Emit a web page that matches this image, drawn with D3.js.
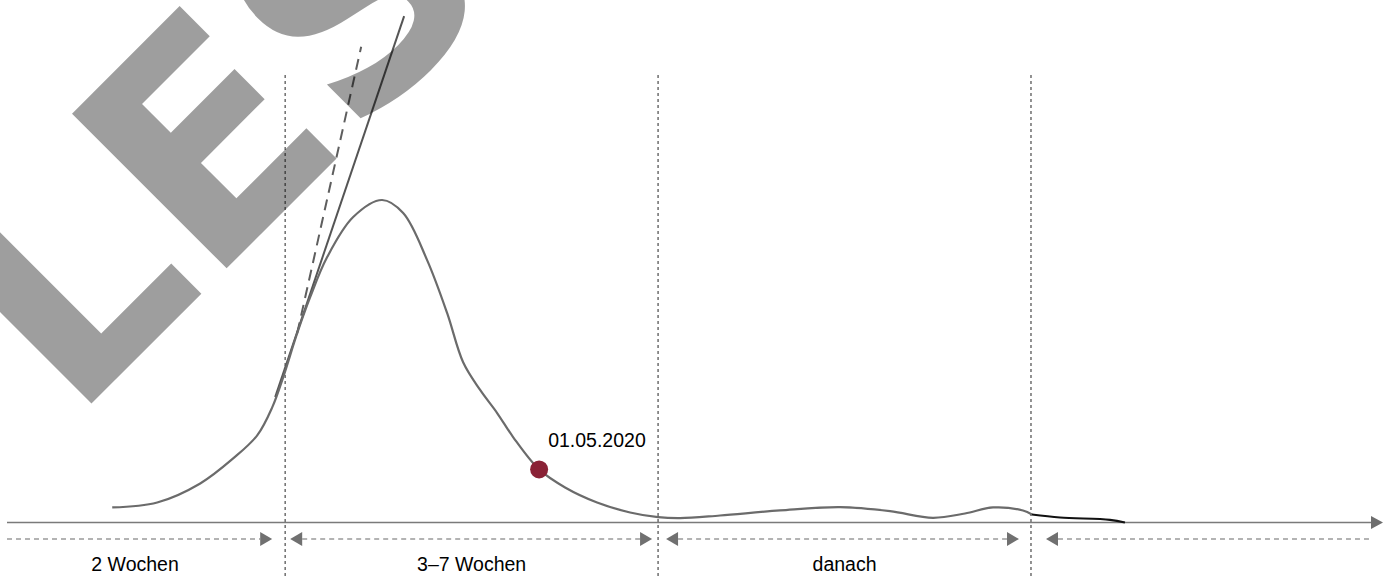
<!DOCTYPE html>
<html>
<head>
<meta charset="utf-8">
<script src="https://cdn.jsdelivr.net/npm/d3@7"></script>
<style>
  body { margin: 0; background: #fff; }
  text { font-family: "Liberation Sans", Arial, sans-serif; }
</style>
</head>
<body>
<svg id="chart"></svg>
<script>
// weeks on the x axis, relative level (peak = 100) on y
const axisWeeks = [-1.73, 16.72];
const dividers = [2, 7, 12];

const curveWeeks = [-0.319, 0.284, 0.861, 1.303, 1.625, 1.826, 1.973, 2.161, 2.335, 2.563, 2.912, 3.300,
  3.582, 3.903, 4.172, 4.386, 4.614, 4.842, 5.056, 5.405, 5.753, 6.182, 6.625, 7.000, 7.295,
  7.831, 8.635, 9.440, 10.110, 10.686, 11.115, 11.491, 11.893, 12.013];
const curveLevel = [4.66, 6.21, 12.11, 19.88, 27.02, 35.71, 45.03, 58.70, 69.88, 82.30, 94.72, 100,
  95.96, 81.37, 64.91, 49.69, 41.1, 33.95, 26.5, 16.46, 10.87, 6.21, 3.11, 1.65, 1.34,
  2.17, 3.73, 4.75, 3.51, 1.46, 2.80, 4.66, 3.73, 2.48];

// the part after the last divider
const tailWeeks = [12.013, 12.389, 13.059, 13.26];
const tailLevel = [2.48, 1.55, 0.84, 0];

// tangents at the inflection
const tangentSolid = [[1.866, 38.9], [3.595, 157]];
const tangentDashed = [[2.161, 58.7], [3.019, 147.5]];

const marker = { week: 5.405, level: 16.46, label: "01.05.2020" };

const periods = [
  { from: -1.73, to: 2, label: "2 Wochen", left: false, right: true },
  { from: 2, to: 7, label: "3–7 Wochen", left: true, right: true },
  { from: 7, to: 12, label: "danach", left: true, right: true },
  { from: 12, to: 16.72, label: "", left: true, right: false }
];

const width = 1394, height = 577;
const axisY = 522.5;

const svg = d3.select("#chart")
  .attr("width", width)
  .attr("height", height);

const x = d3.scaleLinear().domain(axisWeeks).range([7, 1383]);
const y = d3.scaleLinear().domain([0, 100]).range([axisY, 200]);

// dotted dividers
svg.selectAll("line.divider")
  .data(dividers)
  .enter().append("line")
  .attr("class", "divider")
  .attr("x1", d => x(d)).attr("x2", d => x(d))
  .attr("y1", 75).attr("y2", height)
  .attr("stroke", "#6e6e6e")
  .attr("stroke-width", 1.5)
  .attr("stroke-dasharray", "3,3");

// time axis with arrow
svg.append("line")
  .attr("x1", x(axisWeeks[0])).attr("x2", x(axisWeeks[1]) - 12)
  .attr("y1", axisY).attr("y2", axisY)
  .attr("stroke", "#7a7a7a")
  .attr("stroke-width", 1.5);
svg.append("path")
  .attr("d", `M${x(axisWeeks[1])},${axisY} l-12,-6.5 l0,13 z`)
  .attr("fill", "#6e6e6e");

// period arrows (spacing next to the dividers differs a little per period)
const rowY = 539;
const head = 12;
const padLeft = [0, 5, 8, 15];
const padRight = [13, 6, 12, 13];
periods.forEach((p, i) => {
  const x1 = x(p.from) + padLeft[i];
  const x2 = x(p.to) - padRight[i];
  svg.append("line")
    .attr("x1", x1 + (p.left ? head : 0)).attr("x2", x2 - (p.right ? head : 0))
    .attr("y1", rowY).attr("y2", rowY)
    .attr("stroke", "#9a9a9a")
    .attr("stroke-width", 1.5)
    .attr("stroke-dasharray", "5,4");
  if (p.left) {
    svg.append("path")
      .attr("d", `M${x1},${rowY} l${head},-7 l0,14 z`)
      .attr("fill", "#707070");
  }
  if (p.right) {
    svg.append("path")
      .attr("d", `M${x2},${rowY} l${-head},-7 l0,14 z`)
      .attr("fill", "#707070");
  }
  if (p.label) {
    svg.append("text")
      .attr("x", (x(p.from) + x(p.to)) / 2 + (p.from < 0 ? -11 : 0))
      .attr("y", 571)
      .attr("text-anchor", "middle")
      .attr("font-size", "19.5px")
      .attr("fill", "#000")
      .text(p.label);
  }
});

// tangents
const seg = d3.line().x(d => x(d[0])).y(d => y(d[1]));
svg.append("path")
  .attr("d", seg(tangentDashed))
  .attr("fill", "none")
  .attr("stroke", "#5e5e5e")
  .attr("stroke-width", 2)
  .attr("stroke-dasharray", "11,7");
svg.append("path")
  .attr("d", seg(tangentSolid))
  .attr("fill", "none")
  .attr("stroke", "#555")
  .attr("stroke-width", 2);

// the curve
const line = d3.line()
  .x(d => x(d[0]))
  .y(d => y(d[1]))
  .curve(d3.curveCatmullRom.alpha(0.5));

svg.append("path")
  .attr("d", line(d3.zip(curveWeeks, curveLevel)))
  .attr("fill", "none")
  .attr("stroke", "#6b6b6b")
  .attr("stroke-width", 2.2);

svg.append("path")
  .attr("d", line(d3.zip(tailWeeks, tailLevel)))
  .attr("fill", "none")
  .attr("stroke", "#111")
  .attr("stroke-width", 2.2);

// marked date
svg.append("circle")
  .attr("cx", x(marker.week))
  .attr("cy", y(marker.level))
  .attr("r", 9)
  .attr("fill", "#8a2236");
svg.append("text")
  .attr("x", x(marker.week) + 9)
  .attr("y", 446.5)
  .attr("font-size", "19.5px")
  .attr("fill", "#000")
  .text(marker.label);

// watermark, on top and translucent
svg.append("text")
  .attr("transform", "translate(72,423) rotate(-45)")
  .style("font-family", "'DejaVu Sans', sans-serif")
  .style("font-weight", "bold")
  .style("font-size", "300px")
  .attr("fill", "#000")
  .attr("fill-opacity", 0.38)
  .text("LES");
</script>
</body>
</html>
